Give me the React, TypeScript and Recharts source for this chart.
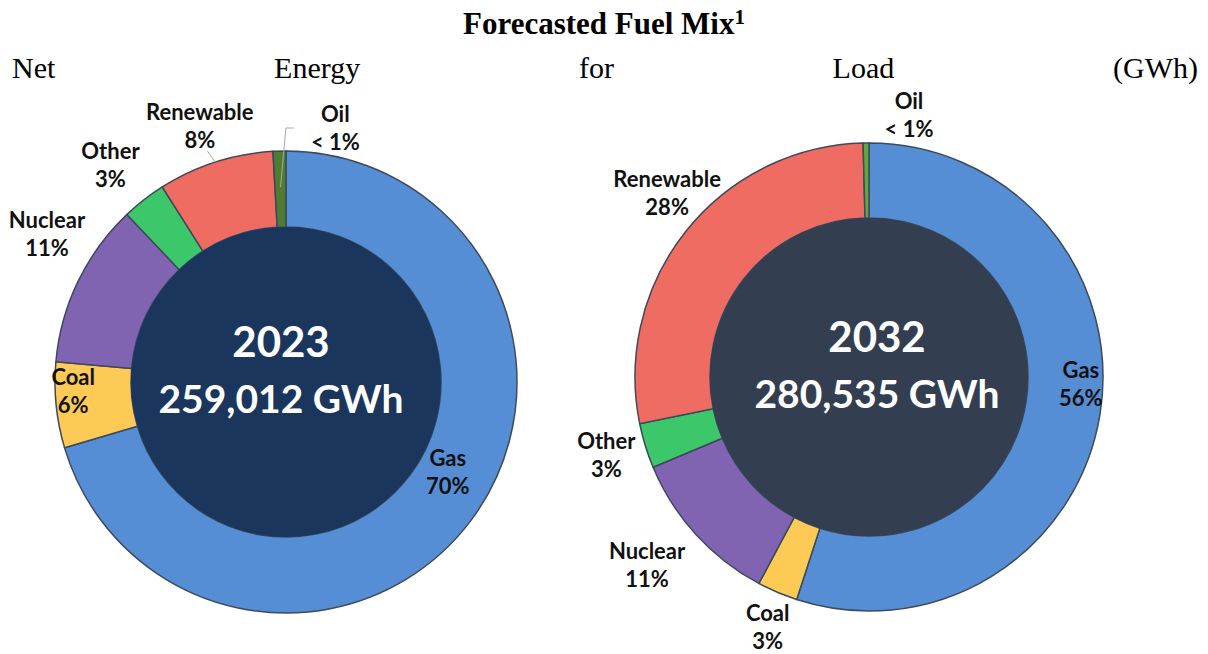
import { PieChart, Pie, Cell } from 'recharts'

const fuels = ['Gas', 'Coal', 'Nuclear', 'Other', 'Renewable', 'Oil']
const share2023 = [70.4, 6.0, 11.5, 3.1, 8.1, 0.9]
const share2032 = [55.0, 2.8, 10.9, 3.1, 27.8, 0.4]
const pct2023 = ['70%', '6%', '11%', '3%', '8%', '< 1%']
const pct2032 = ['56%', '3%', '11%', '3%', '28%', '< 1%']
const years = ['2023', '2032']
const totals = ['259,012 GWh', '280,535 GWh']
const subtitleWords = ['Net', 'Energy', 'for', 'Load', '(GWh)']

const colors2023 = ['#558ed5', '#fdca56', '#8064b2', '#3cc86a', '#ef6c63', '#4f7c2f']
const colors2032 = ['#558ed5', '#fdca56', '#8064b2', '#3cc86a', '#ef6c63', '#5fa83f']

// label placement: radius from centre and clockwise shift (deg) from the slice's mid angle
const place2023 = [
  { r: 185, shift: -7.7 },
  { r: 213, shift: 3.4 },
  { r: 281, shift: 6 },
  { r: 279, shift: -1 },
  { r: 270, shift: -0.8 },
  { r: 259, shift: 12.6 },
]
const place2032 = [
  { r: 212, shift: -7 },
  { r: 270, shift: -1 },
  { r: 291, shift: 2 },
  { r: 274, shift: 0.6 },
  { r: 273, shift: 3.8 },
  { r: 265, shift: 9.4 },
]

type Leader = { pts: { shift: number; r: number }[]; tail?: number }
const leaders2023: Record<number, Leader> = {
  4: { pts: [{ shift: 0, r: 231 }, { shift: -1, r: 244 }] },
  5: { pts: [{ shift: 0, r: 195 }, { shift: 1.6, r: 254 }], tail: 8 },
}

const LABEL_FONT = 'Lato, "Open Sans", sans-serif'

function pt(cx: number, cy: number, midAngle: number, shift: number, r: number) {
  const t = ((90 - midAngle + shift) * Math.PI) / 180
  return { x: cx + r * Math.sin(t), y: cy - r * Math.cos(t) }
}

function makeLabel(texts: string[], place: { r: number; shift: number }[], leaders: Record<number, Leader>) {
  return (props: any) => {
    const { cx, cy, midAngle, index } = props
    const p = place[index]
    const c = pt(cx, cy, midAngle, p.shift, p.r)
    const ld = leaders[index]
    let path = ''
    if (ld) {
      const pts = ld.pts.map((q) => pt(cx, cy, midAngle, q.shift, q.r))
      path = pts.map((q, i) => `${i ? 'L' : 'M'}${q.x},${q.y}`).join(' ')
      if (ld.tail) {
        const last = pts[pts.length - 1]
        path += ` L${last.x + ld.tail},${last.y}`
      }
    }
    return (
      <g>
        {ld && <path d={path} stroke="#a6a6a6" strokeWidth={1} fill="none" />}
        <text
          x={c.x}
          y={c.y}
          textAnchor="middle"
          fontFamily={LABEL_FONT}
          fontWeight={700}
          fontSize={22}
          fill="#111"
        >
          <tspan x={c.x} dy={-6}>{fuels[index]}</tspan>
          <tspan x={c.x} dy={28}>{texts[index]}</tspan>
        </text>
      </g>
    )
  }
}

function makeCenter(year: string, total: string, dx: number) {
  return (props: any) => {
    const { cx, cy } = props
    return (
      <g>
        <text x={cx + dx} y={cy - 25} textAnchor="middle" fontFamily={LABEL_FONT} fontWeight={700} fontSize={42} fill="#fff">
          {year}
        </text>
        <text x={cx + dx} y={cy + 31} textAnchor="middle" fontFamily={LABEL_FONT} fontWeight={700} fontSize={39} fill="#fff">
          {total}
        </text>
      </g>
    )
  }
}

export default function App() {
  const data2023 = fuels.map((name, i) => ({ name, value: share2023[i] }))
  const data2032 = fuels.map((name, i) => ({ name, value: share2032[i] }))

  return (
    <div style={{ position: 'absolute', left: 0, top: 0, width: 1208, height: 654, background: '#fff' }}>
      <PieChart width={1208} height={654} margin={{ top: 0, right: 0, bottom: 0, left: 0 }}>
        <Pie
          data={data2023}
          dataKey="value"
          cx={286}
          cy={382}
          innerRadius={155}
          outerRadius={231}
          startAngle={90}
          endAngle={-270}
          stroke="#3d4a5c"
          strokeWidth={1.5}
          label={makeLabel(pct2023, place2023, leaders2023)}
          labelLine={false}
          isAnimationActive={false}
        >
          {data2023.map((d, i) => (
            <Cell key={d.name} fill={colors2023[i]} />
          ))}
        </Pie>
        <Pie
          data={[{ name: years[0], value: 1 }]}
          dataKey="value"
          cx={286}
          cy={382}
          innerRadius={0}
          outerRadius={155}
          fill="#1b365d"
          stroke="none"
          label={makeCenter(years[0], totals[0], -5)}
          labelLine={false}
          isAnimationActive={false}
        />
        <Pie
          data={data2032}
          dataKey="value"
          cx={869}
          cy={377}
          innerRadius={159}
          outerRadius={234}
          startAngle={90}
          endAngle={-270}
          stroke="#3d4a5c"
          strokeWidth={1.5}
          label={makeLabel(pct2032, place2032, {})}
          labelLine={false}
          isAnimationActive={false}
        >
          {data2032.map((d, i) => (
            <Cell key={d.name} fill={colors2032[i]} />
          ))}
        </Pie>
        <Pie
          data={[{ name: years[1], value: 1 }]}
          dataKey="value"
          cx={869}
          cy={377}
          innerRadius={0}
          outerRadius={159}
          fill="#333f50"
          stroke="none"
          label={makeCenter(years[1], totals[1], 8)}
          labelLine={false}
          isAnimationActive={false}
        />
      </PieChart>
      <div
        style={{
          position: 'absolute',
          top: 6,
          left: 0,
          width: 1208,
          textAlign: 'center',
          fontFamily: '"Liberation Serif", "Times New Roman", serif',
          fontWeight: 700,
          fontSize: 31,
          lineHeight: '36px',
        }}
      >
        Forecasted Fuel Mix<span style={{ fontSize: 21, verticalAlign: 'top', lineHeight: '22px' }}>1</span>
      </div>
      <div
        style={{
          position: 'absolute',
          top: 50,
          left: 12,
          width: 1186,
          display: 'flex',
          justifyContent: 'space-between',
          fontFamily: '"Liberation Serif", "Times New Roman", serif',
          fontSize: 30,
          lineHeight: '36px',
        }}
      >
        {subtitleWords.map((w) => (
          <span key={w}>{w}</span>
        ))}
      </div>
    </div>
  )
}
